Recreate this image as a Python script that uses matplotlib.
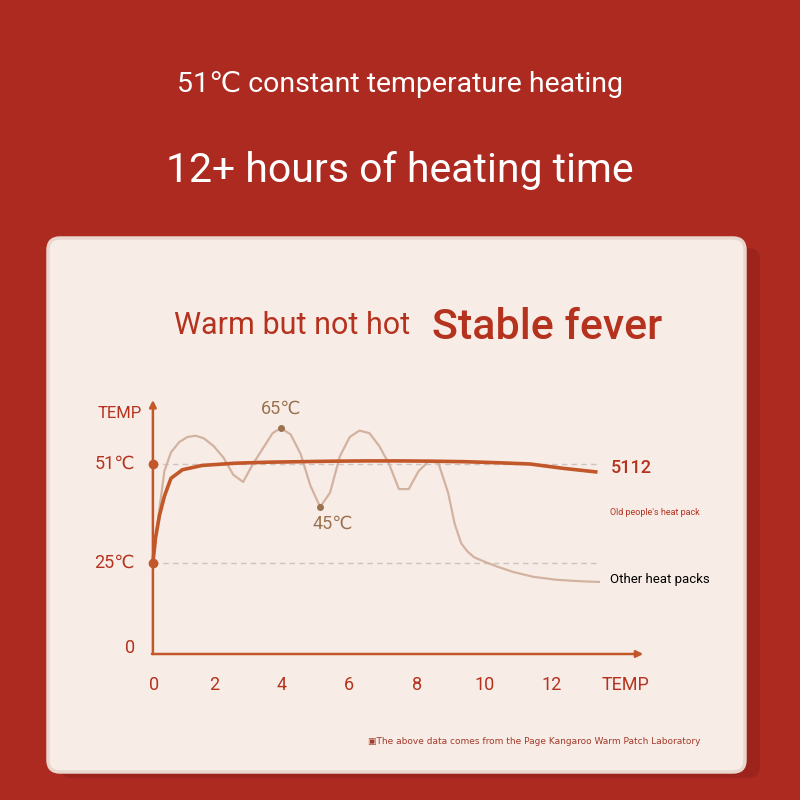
import matplotlib

matplotlib.use("Agg")
import matplotlib.pyplot as plt
import numpy as np
from matplotlib.patches import FancyBboxPatch

plt.rcParams["font.family"] = ["Roboto", "DejaVu Sans"]

RED = "#ad2a21"
CARD = "#f8ede6"
DARK_RED = "#b5321f"
ORANGE = "#c2572a"
GRAY = "#d2b2a0"
BROWN = "#9b7250"

# hours / temperature
hours_5112 = [0, 0.08, 0.2, 0.35, 0.55, 0.9, 1.5, 2.5, 3.5, 4.5, 5.5, 6.5, 7.5, 8.5, 9.5, 10.5, 11.5, 12.5, 13.5]
temp_5112 = [25, 34, 42, 46.5, 49, 50.2, 50.8, 51.3, 51.7, 51.9, 52.1, 52.2, 52.2, 52.1, 51.9, 51.5, 51, 50.4, 49.9]

hours_other = [0, 0.15, 0.35, 0.55, 0.8, 1.05, 1.3, 1.55, 1.85, 2.15, 2.45, 2.75, 3.05, 3.35, 3.65, 3.9, 4.2,
               4.5, 4.8, 5.1, 5.4, 5.7, 6.0, 6.3, 6.6, 6.9, 7.2, 7.5, 7.8, 8.1, 8.4, 8.7, 9.0, 9.2,
               9.4, 9.6, 9.8, 10.1, 10.5, 11.0, 11.6, 12.3, 13.0, 13.6]
temp_other = [25, 40, 50, 55.5, 59.5, 61.5, 62, 61, 58, 53.5, 49.5, 48.5, 51, 57, 63, 65, 62.5,
              55, 48, 45, 47, 54, 61.5, 64, 63, 58, 51, 47.5, 47.5, 50, 52, 51.5, 47, 39,
              32, 29, 27, 25.5, 24, 22.5, 21.2, 20.4, 20, 19.8]

y_ticks = [0, 25, 51]
y_tick_labels = ["0", "25℃", "51℃"]
x_ticks = [0, 2, 4, 6, 8, 10, 12]

peak_point = (3.9, 65)
trough_point = (5.1, 45)

# non-linear temperature axis as drawn in the picture
T_KNOTS = [-40, 0, 25, 45, 51, 65, 75]
H_KNOTS = [-146, 0, 91, 147, 190, 226, 254]


def fwd(t):
    return np.interp(t, T_KNOTS, H_KNOTS)


def inv(h):
    return np.interp(h, H_KNOTS, T_KNOTS)


fig = plt.figure(figsize=(8, 8), dpi=100)
fig.patch.set_facecolor(RED)

# card with shadow
shadow = FancyBboxPatch((60 / 800, 22 / 800), 700 / 800, 530 / 800,
                        boxstyle="round,pad=0,rounding_size=0.015",
                        transform=fig.transFigure, facecolor="#8e1f18", edgecolor="none", alpha=0.5)
card = FancyBboxPatch((48 / 800, 28 / 800), 697 / 800, 534 / 800,
                      boxstyle="round,pad=0,rounding_size=0.015",
                      transform=fig.transFigure, facecolor=CARD, edgecolor="#e9d6cc", linewidth=2.5)
fig.patches.extend([shadow, card])

fig.text(0.5, 1 - 85 / 800, "51℃ constant temperature heating", color="white", fontsize=20.5,
         ha="center", va="center")
fig.text(0.5, 1 - 170 / 800, "12+ hours of heating time", color="white", fontsize=29.5,
         ha="center", va="center")
fig.text(410 / 800, 1 - 326 / 800, "Warm but not hot", color=DARK_RED, fontsize=22, ha="right", va="center")
fig.text(432 / 800, 1 - 328 / 800, "Stable fever", color=DARK_RED, fontsize=31, ha="left", va="center",
         fontweight="medium")
fig.text(700 / 800, 1 - 742 / 800, "▣The above data comes from the Page Kangaroo Warm Patch Laboratory",
         color="#a33a2a", fontsize=6.5, ha="right", va="center", family=["DejaVu Sans"])

ax = fig.add_axes([147 / 800, 1 - 654 / 800, 500 / 800, 254 / 800])
ax.set_zorder(3)
ax.set_facecolor("none")
ax.set_yscale("function", functions=(fwd, inv))
ax.set_xlim(-0.18, 500 / 32.8 - 0.18)
ax.set_ylim(0, 75)
ax.axis("off")

for t in [25, 51]:
    ax.plot([0, 13.6], [t, t], color="#cfc3bd", linestyle=(0, (4, 3)), linewidth=1)

ax.plot(hours_other, temp_other, color=GRAY, linewidth=1.6, solid_joinstyle="round")
ax.plot(hours_5112, temp_5112, color=ORANGE, linewidth=2.6, solid_joinstyle="round")

arrow = dict(arrowstyle="-|>", color=ORANGE, lw=1.8, mutation_scale=10, shrinkA=0, shrinkB=0)
ax.annotate("", xy=(0, 75.5), xytext=(0, 0), arrowprops=arrow, annotation_clip=False)
ax.annotate("", xy=(14.95, 0), xytext=(-0.03, 0), arrowprops=arrow, annotation_clip=False)
ax.plot([0, 0], [25, 51], "o", color=ORANGE, markersize=6)
ax.plot(*zip(peak_point, trough_point), "o", color=BROWN, markersize=4, linestyle="none")

ax.text(peak_point[0], 71.8, "65℃", color=BROWN, fontsize=13, ha="center", va="center")
ax.text(trough_point[0] + 0.4, 39, "45℃", color=BROWN, fontsize=13, ha="center", va="center")

for t, lab in zip(y_ticks, y_tick_labels):
    ax.text(-0.55, t + (1.6 if t == 0 else 0), lab, color=DARK_RED, fontsize=13, ha="right", va="center")
ax.text(-0.35, 70, "TEMP", color=DARK_RED, fontsize=12, ha="right", va="center")
for h in x_ticks:
    ax.text(h * 1.03 - (0.2 if h else -0.05), -8.5, str(h), color=DARK_RED, fontsize=13,
            ha="center", va="center")
ax.text(14.4, -8.5, "TEMP", color=DARK_RED, fontsize=13, ha="center", va="center")

ax.text(13.95, 50.5, "5112", color=DARK_RED, fontsize=13, ha="left", va="center", fontweight="medium")
ax.text(13.95, 43.2, "Old people's heat pack", color=DARK_RED, fontsize=6.5, ha="left", va="center")
ax.text(13.95, 20.5, "Other heat packs", color="black", fontsize=9.5, ha="left", va="center")

for artist in ax.get_children():
    artist.set_clip_on(False)

fig.savefig("out.png", dpi=100, facecolor=fig.get_facecolor())
